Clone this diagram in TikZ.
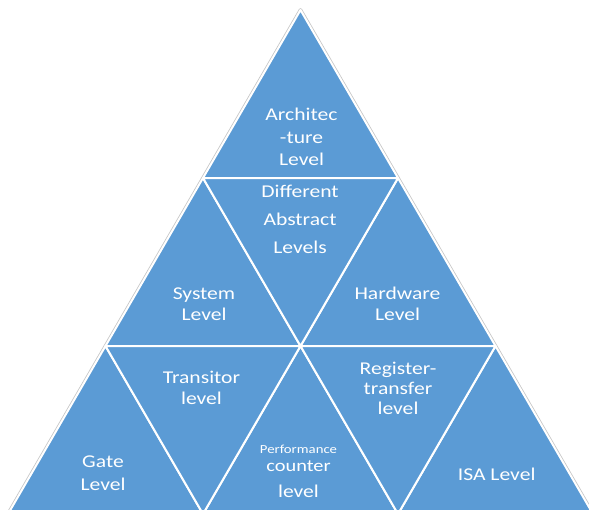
\documentclass[tikz,border=0pt]{standalone}
\usepackage{fontspec}
\setmainfont{Carlito}[FakeStretch=1.2]
\definecolor{tileblue}{RGB}{91,155,213}
\begin{document}
\begin{tikzpicture}[x=1pt,y=-1pt,
  tile/.style={fill=tileblue,draw=white,line width=2pt,line join=round},
  rim/.style={draw=gray!45,line width=3.6pt,line join=round},
  lbl/.style={text=white,align=center,inner sep=0pt},
  big/.style={font=\fontsize{18}{#1}\selectfont},
  big/.default=21.5]
\useasboundingbox (0,0) rectangle (589,509);
\clip (0,0) rectangle (589,509);

% lattice points of the pyramid, row by row
\coordinate (a0) at (300.5,10);
\coordinate (b1) at (203,178);   \coordinate (b2) at (398,178);
\coordinate (c1) at (105.5,346); \coordinate (c2) at (300.5,346); \coordinate (c3) at (495.5,346);
\coordinate (d1) at (8,514);     \coordinate (d2) at (203,514);   \coordinate (d3) at (398,514); \coordinate (d4) at (593,514);

% faint outline round the whole pyramid
\path[rim] (a0) -- (d1) -- (d4) -- cycle;

% upward tiles
\path[tile] (a0) -- (b1) -- (b2) -- cycle;
\path[tile] (b1) -- (c1) -- (c2) -- cycle;
\path[tile] (b2) -- (c2) -- (c3) -- cycle;
\path[tile] (c1) -- (d1) -- (d2) -- cycle;
\path[tile] (c2) -- (d2) -- (d3) -- cycle;
\path[tile] (c3) -- (d3) -- (d4) -- cycle;
% downward tiles
\path[tile] (b1) -- (b2) -- (c2) -- cycle;
\path[tile] (c1) -- (c2) -- (d2) -- cycle;
\path[tile] (c2) -- (c3) -- (d3) -- cycle;

% tile labels
\node[lbl,big=22.7] (arch)  at (301.5,137)   {Architec\\-ture\\Level};
\node[lbl,big=28]   (diff)  at (300,219)     {Different\\Abstract\\Levels};
\node[lbl,big]      (sys)   at (204,304)     {System\\Level};
\node[lbl,big]      (hw)    at (397.5,304)   {Hardware\\Level};
\node[lbl,big=21]   (trans) at (201.5,388)   {Transitor\\level};
\node[lbl,big=23]   (gate)  at (103,473)     {Gate\\Level};
\node[lbl,big=20]   (reg)   at (398,388.3)   {Register-\\transfer\\level};
\node[lbl,big]      (isa)   at (496.7,474)   {ISA Level};
\node[lbl,font=\fontsize{17}{18.4}\selectfont] (perf) at (298.5,471)
  {{\fontsize{12.3}{14}\selectfont Performance}\\counter\\[7.2pt]{\fontsize{18}{20}\selectfont level}};
\end{tikzpicture}
\end{document}
